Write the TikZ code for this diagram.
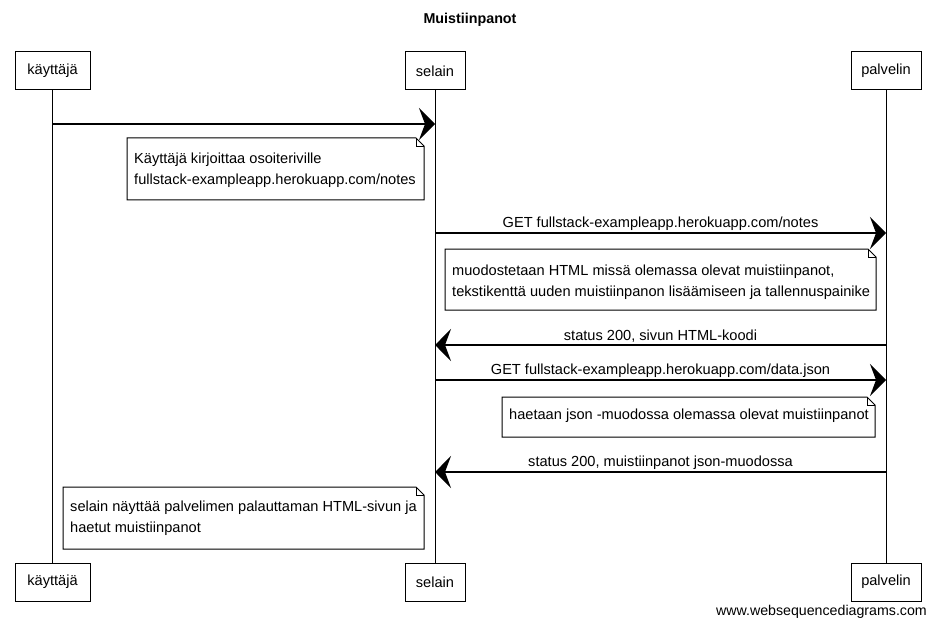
\documentclass[tikz,border=0pt]{standalone}
\usepackage{fontspec}
\setmainfont{Liberation Sans}
\usetikzlibrary{arrows.meta}

% note with a folded top-right corner: x1, y1, x2, y2
\newcommand{\dognote}[4]{%
  \draw[notebox] (#1,#2) -- ({#3-8},#2) -- (#3,{#2+8}) -- (#3,#4) -- (#1,#4) -- cycle;
  \draw[line width=0.6pt] ({#3-8},#2) -- ({#3-8},{#2+8}) -- (#3,{#2+8});
}

\begin{document}
\begin{tikzpicture}[x=1pt,y=-1pt,
  font=\fontsize{14.6}{21}\selectfont,
  actor/.style={draw, line width=1pt, minimum height=38pt, inner sep=0pt},
  life/.style={line width=1pt},
  msg/.style={line width=1.5pt, -{Stealth[length=16pt,width=32pt,inset=6pt]}},
  lbl/.style={inner sep=0pt, above=2pt},
  notetext/.style={inner sep=0pt, align=left, anchor=west},
  notebox/.style={line width=1pt, fill=white}
]
\useasboundingbox (0,0) rectangle (936,628);

% title
\node[font=\fontsize{14.3}{16}\selectfont\bfseries] (title) at (470,20) {Muistiinpanot};

% participants, top and bottom
\node[actor, minimum width=75pt] (kt) at (52.5,71) {käyttäjä};
\node[actor, minimum width=60pt] (st) at (435,71) {selain};
\node[actor, minimum width=70pt] (pt) at (886,71) {palvelin};
\node[actor, minimum width=75pt] (kb) at (52.5,582) {käyttäjä};
\node[actor, minimum width=60pt] (sb) at (435,582) {selain};
\node[actor, minimum width=70pt] (pb) at (886,582) {palvelin};

% lifelines
\draw[life] (kt.south) -- (kb.north);
\draw[life] (st.south) -- (sb.north);
\draw[life] (pt.south) -- (pb.north);

% message end points on the lifelines
\coordinate (k1) at (53,124);  \coordinate (s1) at (435,124);
\coordinate (s2) at (435,233); \coordinate (p2) at (886,233);
\coordinate (p3) at (886,345); \coordinate (s3) at (435,345);
\coordinate (s4) at (435,380); \coordinate (p4) at (886,380);
\coordinate (p5) at (886,472); \coordinate (s5) at (435,472);

% messages
\draw[msg] (k1) -- (s1);
\draw[msg] (s2) -- (p2) node[lbl, midway] (m2) {GET fullstack-exampleapp.herokuapp.com/notes};
\draw[msg] (p3) -- (s3) node[lbl, midway] (m3) {status 200, sivun HTML-koodi};
\draw[msg] (s4) -- (p4) node[lbl, midway] (m4) {GET fullstack-exampleapp.herokuapp.com/data.json};
\draw[msg] (p5) -- (s5) node[lbl, midway] (m5) {status 200, muistiinpanot json-muodossa};

% notes
\dognote{127}{138}{424}{200}
\node[notetext] (n1) at (134,170.5) {Käyttäjä kirjoittaa osoiteriville\\fullstack-exampleapp.herokuapp.com/notes};

\dognote{445}{249}{876}{310}
\node[notetext] (n2) at (452,282.5) {muodostetaan HTML missä olemassa olevat muistiinpanot,\\tekstikenttä uuden muistiinpanon lisäämiseen ja tallennuspainike};

\dognote{502}{397}{875}{437}
\node[notetext] (n3) at (509,416) {haetaan json -muodossa olemassa olevat muistiinpanot};

\dognote{63}{487}{424}{549}
\node[notetext] (n4) at (70,518.5) {selain näyttää palvelimen palauttaman HTML-sivun ja\\haetut muistiinpanot};

% footer
\node[inner sep=0pt, anchor=east, font=\fontsize{14.2}{16}\selectfont] (web) at (927,612) {www.websequencediagrams.com};
\end{tikzpicture}
\end{document}
